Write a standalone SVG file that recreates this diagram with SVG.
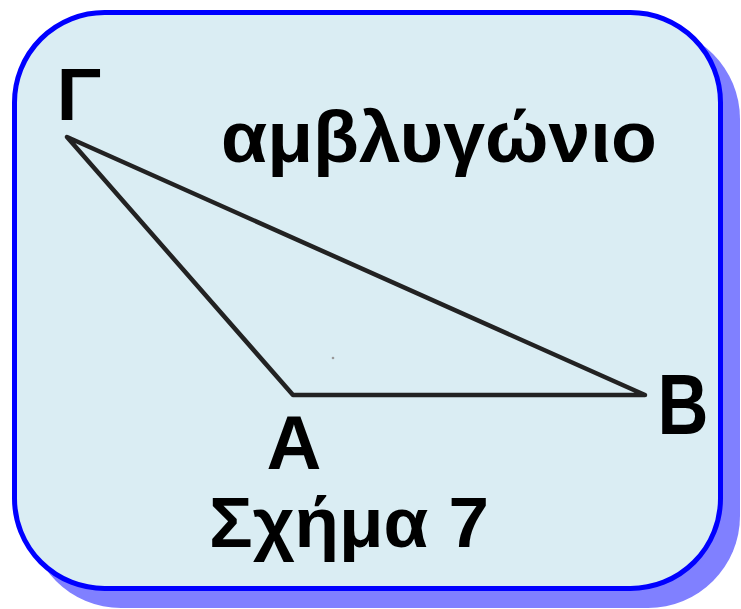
<svg xmlns="http://www.w3.org/2000/svg" width="741" height="609" viewBox="0 0 741 609">
<style>
.lbl{font-family:"Liberation Sans",Arial,sans-serif;font-weight:bold;fill:#000;text-anchor:middle}
.edge{stroke:#222;stroke-width:4.5;fill:none;stroke-linejoin:round;stroke-linecap:round}
</style>
<rect x="0" y="0" width="741" height="609" fill="#fff"/>
<g id="card">
<rect x="29" y="27" width="711" height="581" rx="92" ry="92" fill="#8080ff"/>
<rect x="14.5" y="12.5" width="706" height="576" rx="90" ry="90" fill="#daedf3" stroke="#0000ff" stroke-width="5"/>
</g>
<g id="connectors">
<polygon class="edge" points="67,137 293,395 645,395"/>
</g>
<circle cx="333" cy="358" r="1.3" fill="#999"/>
<g id="node-G"><text class="lbl" x="79" y="120" font-size="74">Γ</text></g>
<g id="node-A"><text class="lbl" x="294" y="469" font-size="76">Α</text></g>
<g id="node-B"><text class="lbl" transform="translate(683,434) scale(0.83,1)" x="0" y="0" font-size="85">Β</text></g>
<g id="title"><text class="lbl" x="439" y="162" font-size="72" textLength="436" lengthAdjust="spacingAndGlyphs">αμβλυγώνιο</text></g>
<g id="caption"><text class="lbl" x="349" y="547" font-size="70" textLength="280" lengthAdjust="spacingAndGlyphs">Σχήμα 7</text></g>
</svg>
